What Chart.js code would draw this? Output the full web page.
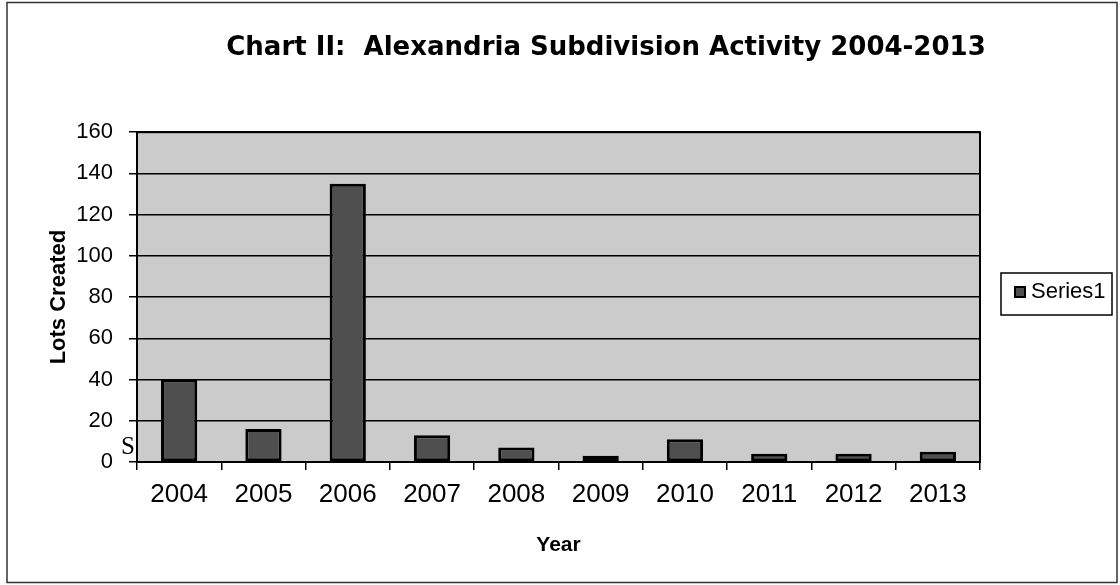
<!DOCTYPE html>
<html>
<head>
<meta charset="utf-8">
<title>Chart II: Alexandria Subdivision Activity 2004-2013</title>
<script src="https://cdn.jsdelivr.net/npm/chart.js@4.4.1/dist/chart.umd.min.js"></script>
<style>
  html, body { margin: 0; padding: 0; background: #ffffff; }
  #wrap { width: 1120px; height: 585px; }
</style>
</head>
<body>
<div id="wrap"><canvas id="myChart" width="1120" height="585"></canvas></div>
<script>
const years = ["2004", "2005", "2006", "2007", "2008", "2009", "2010", "2011", "2012", "2013"];
const lotsCreated = [40, 16, 135, 13, 7, 3, 11, 4, 4, 5];
const yTicks = [0, 20, 40, 60, 80, 100, 120, 140, 160];
const seriesName = "Series1";

const FONT = "'Liberation Sans', Arial, sans-serif";

// plot background, outer frame, legend box and the stray "S" from the scan
const decor = {
  id: "decor",
  afterLayout(chart) {
    // title sits a bit right of the plot centre in the original
    const t = chart.titleBlock;
    if (t) { t.left = 106; t.right = 1106; t.width = 1000; }
  },
  beforeDraw(chart) {
    const { ctx, chartArea: a } = chart;
    ctx.save();
    ctx.fillStyle = "#ffffff";
    ctx.fillRect(0, 0, chart.width, chart.height);
    ctx.fillStyle = "#cbcbcb";
    ctx.fillRect(a.left, a.top, a.right - a.left, a.bottom - a.top);
    ctx.restore();
  },
  afterDraw(chart) {
    const { ctx, chartArea: a } = chart;
    ctx.save();
    // plot frame
    ctx.strokeStyle = "#000";
    ctx.lineWidth = 2;
    ctx.strokeRect(a.left, a.top, a.right - a.left, a.bottom - a.top);
    // outer frame
    ctx.strokeStyle = "#333";
    ctx.lineWidth = 1.5;
    ctx.strokeRect(7, 2.5, 1110, 580);
    // legend
    ctx.fillStyle = "#fff";
    ctx.fillRect(1001, 273, 111, 42);
    ctx.strokeStyle = "#000";
    ctx.lineWidth = 1.5;
    ctx.strokeRect(1001, 273, 111, 42);
    ctx.fillStyle = "#4f4f4f";
    ctx.fillRect(1015, 287, 10, 10);
    ctx.lineWidth = 2;
    ctx.strokeRect(1015, 287, 10, 10);
    ctx.fillStyle = "#000";
    ctx.font = "22px " + FONT;
    ctx.textAlign = "left";
    ctx.textBaseline = "middle";
    ctx.fillText(chart.data.datasets[0].label, 1031, 292);
    // scan artifact next to the axis
    ctx.font = "25px 'Liberation Serif', serif";
    ctx.textAlign = "right";
    ctx.fillText("S", 135, 447);
    ctx.restore();
  }
};

const ctx = document.getElementById("myChart").getContext("2d");
const chart = new Chart(ctx, {
  type: "bar",
  data: {
    labels: years,
    datasets: [
      {
        label: seriesName,
        data: lotsCreated,
        backgroundColor: "#4f4f4f",
        borderColor: "#000000",
        borderWidth: 3,
        borderSkipped: false,
        barPercentage: 0.43,
        categoryPercentage: 1.0,
      },
    ],
  },
  options: {
    responsive: false,
    animation: false,
    devicePixelRatio: 1,
    layout: {
      padding: { left: 0, right: 140, top: 0, bottom: 0 },
    },
    plugins: {
      legend: { display: false },
      tooltip: { enabled: false },
      title: {
        display: true,
        text: "Chart II:  Alexandria Subdivision Activity 2004-2013",
        color: "#000",
        font: { family: "'DejaVu Sans', sans-serif", size: 26, weight: "bold" },
        padding: { top: 33, bottom: 68 },
      },
    },
    scales: {
      x: {
        afterFit: (scale) => { scale.height = 123; },
        grid: {
          display: true,
          drawOnChartArea: false,
          drawTicks: true,
          tickLength: 8,
          color: "#000",
          lineWidth: 1.5,
          offset: true,
        },
        border: { display: true, color: "#000", width: 2 },
        ticks: {
          color: "#000",
          padding: 9,
          maxRotation: 0,
          font: { family: FONT, size: 26 },
        },
        title: {
          display: true,
          text: "Year",
          color: "#000",
          font: { family: FONT, size: 21, weight: "bold" },
          padding: { top: 0, bottom: 27 },
        },
      },
      y: {
        min: 0,
        max: 160,
        afterFit: (scale) => { scale.width = 137; },
        afterBuildTicks: (scale) => {
          scale.ticks = yTicks.map((v) => ({ value: v }));
        },
        grid: {
          color: "#000",
          lineWidth: 1.5,
          drawTicks: true,
          tickLength: 8,
        },
        border: { display: true, color: "#000", width: 2 },
        ticks: {
          color: "#000",
          padding: 16,
          font: { family: FONT, size: 22 },
        },
        title: {
          display: true,
          text: "Lots Created",
          color: "#000",
          font: { family: FONT, size: 22, weight: "bold" },
          padding: { top: 46, bottom: 0 },
        },
      },
    },
  },
  plugins: [decor],
});
</script>
</body>
</html>
